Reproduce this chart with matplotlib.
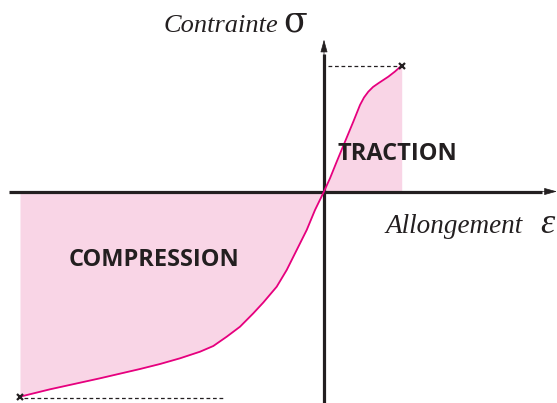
import numpy as np
import matplotlib
matplotlib.use('Agg')
import matplotlib.pyplot as plt

# stress-strain curve (arbitrary units)
eps = [-30.4, -27.4, -22.4, -18.4, -16.4, -14.4, -12.4, -11.07, -9.73, -8.4,
       -7.07, -6.07, -4.73, -3.73, -2.73, -1.73, -0.9, 0.0, 0.6, 1.27, 2.1,
       2.93, 3.6, 4.0, 4.43, 4.9, 5.43, 6.43, 7.1, 7.77]
sigma = [-20.52, -19.78, -18.68, -17.75, -17.25, -16.68, -16.02, -15.45,
         -14.52, -13.52, -12.18, -11.1, -9.52, -7.85, -5.85, -3.85, -1.85, 0.0,
         1.32, 2.98, 4.98, 6.98, 8.65, 9.4, 9.98, 10.45, 10.82, 11.48, 12.0, 12.6]

# break points (ends of the curve)
rupture_eps = [eps[0], eps[-1]]
rupture_sig = [sigma[0], sigma[-1]]

labels = ['TRACTION', 'COMPRESSION']
axis_names = ['Contrainte', 'Allongement']

ink = '#231f20'
pink = '#f9d5e6'
magenta = '#e6007e'

fig = plt.figure(figsize=(5.57, 4.03), dpi=100)
ax = fig.add_axes([0, 0, 1, 1])
ax.set_xlim(-32.4, 23.3)
ax.set_ylim(-21.15, 19.15)
ax.axis('off')

e = np.array(eps)
s = np.array(sigma)

# shaded areas between curve and strain axis
ax.fill_between(e, s, 0, where=e <= 0, color=pink, lw=0, interpolate=True)
ax.fill_between(e, s, 0, where=e >= 0, color=pink, lw=0, interpolate=True)

# axes with arrows
ax.plot([-31.5, 21.8], [0, 0], color=ink, lw=2.3, solid_capstyle='butt', zorder=3)
ax.plot([0, 0], [-21.2, 13.8], color=ink, lw=2.3, solid_capstyle='butt', zorder=3)
ax.annotate('', xy=(23.3, 0), xytext=(21.0, 0),
            arrowprops=dict(arrowstyle='-|>,head_length=0.8,head_width=0.22',
                            color=ink, lw=0.5, shrinkA=0, shrinkB=0), zorder=4)
ax.annotate('', xy=(0, 15.2), xytext=(0, 13.0),
            arrowprops=dict(arrowstyle='-|>,head_length=0.8,head_width=0.22',
                            color=ink, lw=0.5, shrinkA=0, shrinkB=0), zorder=4)

# dashed guides to the break points
ax.plot([0.4, rupture_eps[1] - 0.4], [rupture_sig[1]] * 2, color=ink, lw=0.9,
        ls=(0, (3, 2.2)), zorder=3)
ax.plot([rupture_eps[0] + 0.4, -9.9], [rupture_sig[0] - 0.1] * 2, color=ink, lw=0.9,
        ls=(0, (3, 2.2)), zorder=3)

ax.plot(e, s, color=magenta, lw=1.3, zorder=4, solid_joinstyle='round')
ax.plot(rupture_eps, rupture_sig, 'x', color=ink, ms=5, mew=1.6, zorder=5)

# texts
sans = ['Open Sans', 'DejaVu Sans']
ax.text(1.3, 3.7, labels[0], fontsize=17, fontweight='bold', family=sans,
        color=ink, ha='left', va='center', zorder=5)
ax.text(-17.0, -6.8, labels[1], fontsize=17, fontweight='bold', family=sans,
        color=ink, ha='center', va='center', zorder=5)

serif = ['Liberation Serif', 'DejaVu Serif']
ax.text(-4.6, 15.95, axis_names[0], fontsize=19, style='italic', family=serif,
        color=ink, ha='right', va='baseline')
ax.text(-1.7, 15.95, '\u03c3', fontsize=25, family=['DejaVu Serif'],
        color=ink, ha='right', va='baseline')
ax.text(19.9, -4.15, axis_names[1], fontsize=19.5, style='italic', family=serif,
        color=ink, ha='right', va='baseline')
ax.text(23.0, -4.15, '\u03b5', fontsize=26, style='italic', family=serif,
        color=ink, ha='right', va='baseline')

fig.savefig('out.png', dpi=100)
